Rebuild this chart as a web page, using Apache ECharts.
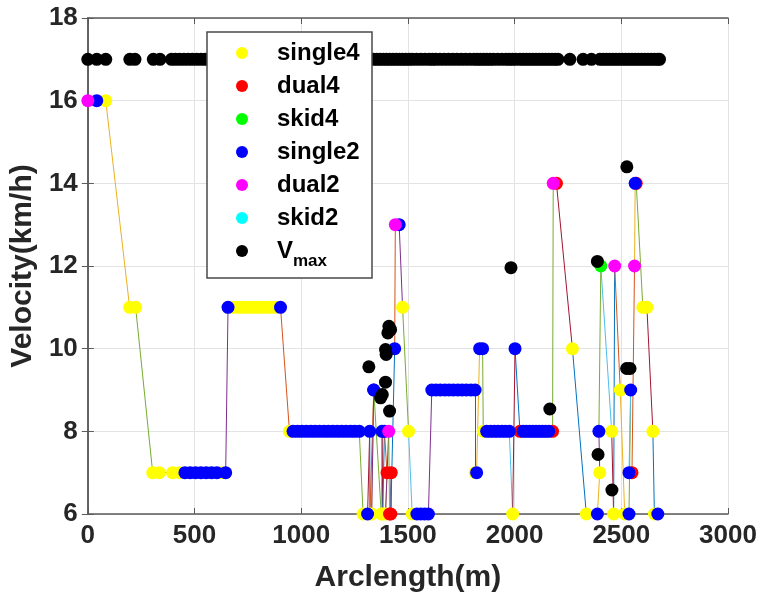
<!DOCTYPE html>
<html><head><meta charset="utf-8">
<script src="https://cdn.jsdelivr.net/npm/echarts@6/dist/echarts.min.js"></script>
<style>html,body{margin:0;padding:0;background:#fff}#c{width:763px;height:598px}</style>
</head><body><div id="c"></div>
<script>
// ---- data ----
const typeNames = ['single4', 'dual4', 'skid4', 'single2', 'dual2', 'skid2'];
const typeColors = ['#FFFF00', '#FF0000', '#00FF00', '#0000FF', '#FF00FF', '#00FFFF'];
// trajectory: arclength (m), velocity (km/h), marker type (index into typeNames)
const arcLength = [0, 42, 84, 196, 224, 304, 335, 397, 430, 455, 480, 505, 530, 555, 580, 605, 625, 646,
  657, 680, 702, 724, 746, 768, 790, 812, 834, 856, 878, 903, 945,
  962, 983, 1003, 1024, 1045, 1065, 1086, 1107, 1127, 1148, 1169, 1189, 1210, 1231, 1251, 1272,
  1290, 1311, 1321, 1322, 1340, 1330, 1340, 1375, 1379, 1382, 1390, 1402, 1395, 1410, 1414, 1422, 1420,
  1438, 1441, 1459, 1475, 1503, 1520, 1542, 1560, 1578, 1596,
  1612, 1632, 1652, 1673, 1693, 1713, 1734, 1754, 1774, 1795, 1815,
  1815, 1822, 1836, 1850, 1853, 1869, 1887, 1905, 1922, 1940, 1957, 1975,
  1991, 2002, 2025, 2040, 2055, 2070, 2085, 2100, 2115, 2130, 2145, 2160, 2178,
  2181, 2196, 2271, 2336, 2388, 2399, 2395, 2404, 2455, 2464, 2469, 2495, 2516, 2536, 2544, 2536, 2547, 2550,
  2562, 2565, 2570, 2601, 2620, 2648, 2655, 2671];
const velocity = [16, 16, 16, 11, 11, 7, 7, 7, 7, 7, 7, 7, 7, 7, 7, 7, 7, 7,
  11, 11, 11, 11, 11, 11, 11, 11, 11, 11, 11, 11, 8,
  8, 8, 8, 8, 8, 8, 8, 8, 8, 8, 8, 8, 8, 8, 8, 8,
  6, 6, 8, 6, 9, 6, 9, 6, 8, 6, 8, 7, 6, 8, 6, 7, 6,
  10, 13, 13, 11, 8, 6, 6, 6, 6, 6,
  9, 9, 9, 9, 9, 9, 9, 9, 9, 9, 9,
  7, 7, 10, 10, 8, 8, 8, 8, 8, 8, 8, 8,
  6, 10, 8, 8, 8, 8, 8, 8, 8, 8, 8, 8, 8,
  14, 14, 10, 6, 6, 7, 8, 12, 8, 6, 12, 9, 6, 6, 9, 7, 7, 7,
  12, 14, 14, 11, 11, 8, 6, 6];
const markType = [4, 3, 0, 0, 0, 0, 0, 0, 0, 3, 3, 3, 3, 3, 3, 3, 0, 3,
  3, 0, 0, 0, 0, 0, 0, 0, 0, 0, 0, 3, 0,
  3, 3, 3, 3, 3, 3, 3, 3, 3, 3, 3, 3, 3, 3, 3, 3,
  0, 3, 3, 0, 3, 0, 3, 0, 3, 0, 3, 1, 0, 4, 1, 1, 1,
  3, 4, 3, 0, 0, 0, 3, 3, 3, 3,
  3, 3, 3, 3, 3, 3, 3, 3, 3, 3, 3,
  0, 3, 3, 3, 0, 3, 3, 3, 3, 3, 3, 3,
  0, 3, 1, 3, 3, 3, 3, 3, 3, 3, 3, 3, 1,
  4, 1, 0, 0, 3, 0, 3, 2, 0, 0, 4, 0, 0, 3, 3, 3, 0, 1,
  4, 3, 1, 0, 0, 0, 0, 3];
// V_max points
const vmaxCap = 17;
const vmaxCapX = [0, 42, 84, 197, 221, 307, 338, 392, 410, 430, 450, 470, 490, 510, 530, 550, 565,
  600, 640, 680, 720, 760, 800, 840, 880, 920, 960, 1000, 1040, 1080, 1120, 1160, 1200, 1240, 1280, 1320,
  1340, 1355, 1370, 1385, 1400, 1415, 1430, 1445, 1460, 1475, 1490, 1505, 1520, 1540, 1560, 1580, 1600,
  1615, 1630, 1650, 1670, 1690, 1710, 1730, 1750, 1770, 1790, 1810, 1825, 1840, 1855, 1870, 1885, 1900,
  1920, 1940, 1960, 1975, 1990, 2005, 2025, 2040, 2055, 2070, 2085, 2100, 2115, 2130, 2145, 2160, 2175,
  2190, 2203, 2259, 2321, 2360, 2400, 2415, 2430, 2445, 2460, 2475, 2490, 2505, 2520, 2535, 2550, 2565,
  2580, 2595, 2610, 2625, 2640, 2655, 2670, 2679];
const vmaxLowX = [1317, 1395, 1380, 1372, 1414, 1395, 1398, 1411, 1419, 1406, 1983, 2165, 2391, 2456, 2525, 2541, 2526, 2388];
const vmaxLowY = [9.56, 9.19, 8.89, 8.81, 8.49, 9.98, 9.86, 10.54, 10.46, 10.38, 11.96, 8.54, 7.44, 6.58, 9.52, 9.52, 14.40, 12.11];
const segColors = ['#0072BD', '#D95319', '#EDB120', '#7E2F8E', '#77AC30', '#4DBEEE', '#A2142F'];
const xTicks = {min: 0, max: 3000, interval: 500};
const yTicks = {min: 6, max: 18, interval: 2};

// ---- build chart ----
const FONT = '"Liberation Sans", Arial, Helvetica, sans-serif';
const segData = [];
for (let i = 0; i + 1 < arcLength.length; i++) {
  segData.push({coords: [[arcLength[i], velocity[i]], [arcLength[i + 1], velocity[i + 1]]],
    lineStyle: {color: segColors[i % segColors.length]}});
}
const series = [{
  type: 'lines', coordinateSystem: 'cartesian2d', data: segData, z: 1, silent: true,
  lineStyle: {width: 1, opacity: 1}
}];
typeNames.forEach((nm, t) => {
  const pts = [];
  for (let i = 0; i < arcLength.length; i++) if (markType[i] === t) pts.push([arcLength[i], velocity[i]]);
  series.push({name: nm, type: 'scatter', data: pts, symbol: 'circle', symbolSize: 13,
    itemStyle: {color: typeColors[t], opacity: 1}, z: 3, emphasis: {disabled: true}});
});
const vmaxPts = vmaxCapX.map(x => [x, vmaxCap]).concat(vmaxLowX.map((x, i) => [x, vmaxLowY[i]]));
series.push({name: 'Vmax', type: 'scatter', data: vmaxPts, symbol: 'circle', symbolSize: 13,
  itemStyle: {color: '#000000', opacity: 1}, z: 3, emphasis: {disabled: true}});

const axisLine = {show: true, lineStyle: {color: '#5a5a5a', width: 1.5}};
const labelStyle = {fontFamily: FONT, fontWeight: 'bold', fontSize: 26, color: '#262626'};
const chart = echarts.init(document.getElementById('c'), null, {renderer: 'canvas'});
chart.setOption({
  animation: false,
  backgroundColor: '#ffffff',
  grid: {left: 86, right: 35, top: 18, bottom: 84, containLabel: false},
  xAxis: [{
    type: 'value', min: xTicks.min, max: xTicks.max, interval: xTicks.interval, position: 'bottom',
    name: 'Arclength(m)', nameLocation: 'middle', nameGap: 49,
    nameTextStyle: {fontFamily: FONT, fontWeight: 'bold', fontSize: 30, color: '#262626'},
    axisLine: axisLine, axisTick: {show: true, inside: true, length: 6, lineStyle: {color: '#5a5a5a'}},
    axisLabel: Object.assign({margin: 9, formatter: v => String(v)}, labelStyle),
    splitLine: {show: true, lineStyle: {color: '#e3e3e3', width: 1}}
  }, {
    type: 'value', min: xTicks.min, max: xTicks.max, interval: xTicks.interval, position: 'top',
    axisLine: axisLine, axisTick: {show: true, inside: true, length: 6, lineStyle: {color: '#5a5a5a'}},
    axisLabel: {show: false}, splitLine: {show: false}
  }],
  yAxis: [{
    type: 'value', min: yTicks.min, max: yTicks.max, interval: yTicks.interval, position: 'left',
    name: 'Velocity(km/h)', nameLocation: 'middle', nameGap: 48,
    nameTextStyle: {fontFamily: FONT, fontWeight: 'bold', fontSize: 30, color: '#262626'},
    axisLine: axisLine, axisTick: {show: true, inside: true, length: 6, lineStyle: {color: '#5a5a5a'}},
    axisLabel: Object.assign({margin: 10, formatter: v => String(v)}, labelStyle),
    splitLine: {show: true, lineStyle: {color: '#e3e3e3', width: 1}}
  }, {
    type: 'value', min: yTicks.min, max: yTicks.max, interval: yTicks.interval, position: 'right',
    axisLine: axisLine, axisTick: {show: true, inside: true, length: 6, lineStyle: {color: '#5a5a5a'}},
    axisLabel: {show: false}, splitLine: {show: false}
  }],
  graphic: [{
    type: 'rect', z: 10, shape: {x: 207, y: 32, width: 165, height: 246},
    style: {fill: '#ffffff', stroke: '#4a4a4a', lineWidth: 1.5}
  }],
  legend: {
    orient: 'vertical', left: 236, top: 40, padding: 0, z: 20,
    itemWidth: 60, itemHeight: 12, itemGap: 7, icon: 'circle',
    data: typeNames.concat(['Vmax']),
    selectedMode: false,
    formatter: n => n === 'Vmax' ? '{v|V}{s|max}' : n,
    textStyle: {fontFamily: FONT, fontWeight: 'bold', fontSize: 24, color: '#000', lineHeight: 26,
      rich: {v: {fontFamily: FONT, fontWeight: 'bold', fontSize: 24, color: '#000', lineHeight: 26},
             s: {fontFamily: FONT, fontWeight: 'bold', fontSize: 17, color: '#000', padding: [20, 0, 0, 0]}}}
  },
  series: series
});
</script></body></html>
